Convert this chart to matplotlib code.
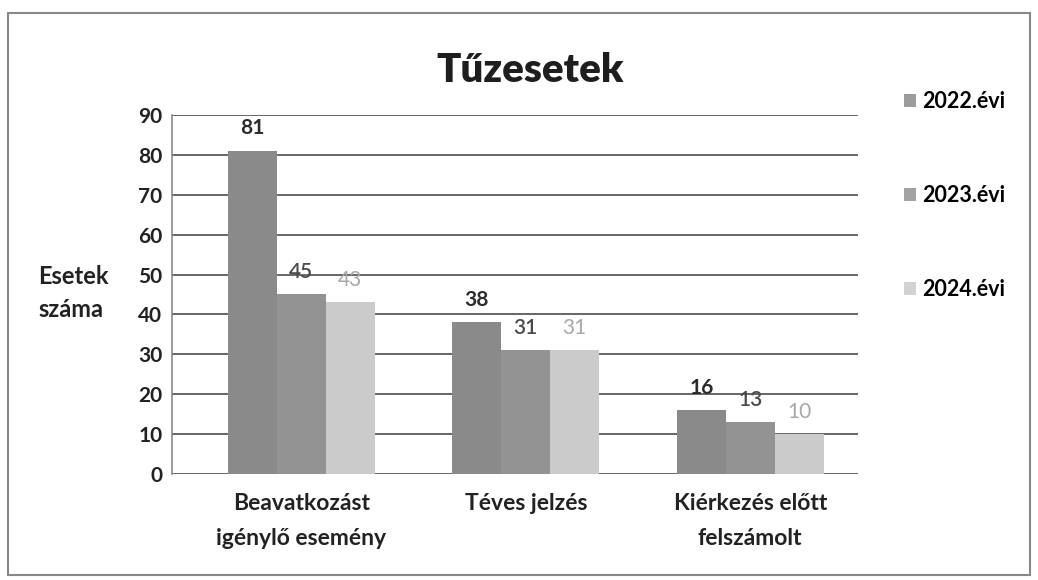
import numpy as np
import matplotlib.pyplot as plt
from matplotlib.patches import Rectangle

# data
categories = ['Beavatkozást\nigénylő esemény', 'Téves jelzés', 'Kiérkezés előtt\nfelszámolt']
series = ['2022.évi', '2023.évi', '2024.évi']
v2022 = [81, 38, 16]
v2023 = [45, 31, 13]
v2024 = [43, 31, 10]
yticks = [0, 10, 20, 30, 40, 50, 60, 70, 80, 90]

bar_colors = ['#8a8a8a', '#939393', '#cbcbcb']
label_colors = ['#2b2b2b', '#4a4a4a', '#a8a8a8']
label_weights = ['bold', 'semibold', 'normal']

plt.rcParams['font.family'] = ['Lato', 'DejaVu Sans']

fig = plt.figure(figsize=(10.38, 5.8), dpi=100)
ax = fig.add_axes([0.1657, 0.1828, 0.661, 0.619])

x = np.arange(len(categories))
w = 0.218
for i, vals in enumerate([v2022, v2023, v2024]):
    pos = x + (i - 1) * w
    bars = ax.bar(pos, vals, width=w, color=bar_colors[i], label=series[i], zorder=3)
    for b, v in zip(bars, vals):
        ax.annotate(str(v), (b.get_x() + b.get_width() / 2, v), xytext=(0, 9),
                    textcoords='offset points', ha='center', va='bottom',
                    fontsize=15, color=label_colors[i], fontweight=label_weights[i])

ax.set_ylim(0, 90)
ax.set_xlim(-0.577, 2.481)
ax.set_yticks(yticks)
ax.yaxis.grid(True, color='#5a5a5a', linewidth=1.3, zorder=0)
ax.set_axisbelow(True)
for s in ['top', 'right', 'bottom']:
    ax.spines[s].set_visible(False)
ax.spines['left'].set_color('#8a8a8a')
ax.spines['left'].set_linewidth(1.2)
ax.tick_params(axis='y', length=0, pad=7, labelsize=15, labelcolor='#222222')
ax.tick_params(axis='x', length=0, pad=14, labelsize=16.5, labelcolor='#222222')
for t in ax.get_yticklabels():
    t.set_fontweight('bold')
ax.set_xticks(x)
ax.set_xticklabels(categories, fontweight='bold', linespacing=1.8)

fig.text(0.511, 0.878, 'Tűzesetek', ha='center', va='center', fontsize=29,
         fontweight='heavy', color='#1e1e1e')
fig.text(0.037, 0.495, 'Esetek\nszáma', ha='left', va='center', fontsize=17,
         fontweight='bold', color='#222222', linespacing=1.5)

leg = fig.legend(loc='upper left', bbox_to_anchor=(0.852, 0.876), frameon=False,
                 handlelength=0.55, handleheight=0.55, handletextpad=0.3,
                 labelspacing=3.38, prop={'weight': 'bold', 'size': 15.5})
for h in leg.legend_handles:
    h.set_alpha(0.85)

fig.patches.append(Rectangle((0.008, 0.008), 0.984, 0.97, transform=fig.transFigure,
                             fill=False, edgecolor='#888888', linewidth=1.5))

fig.savefig('out.png', dpi=100)
